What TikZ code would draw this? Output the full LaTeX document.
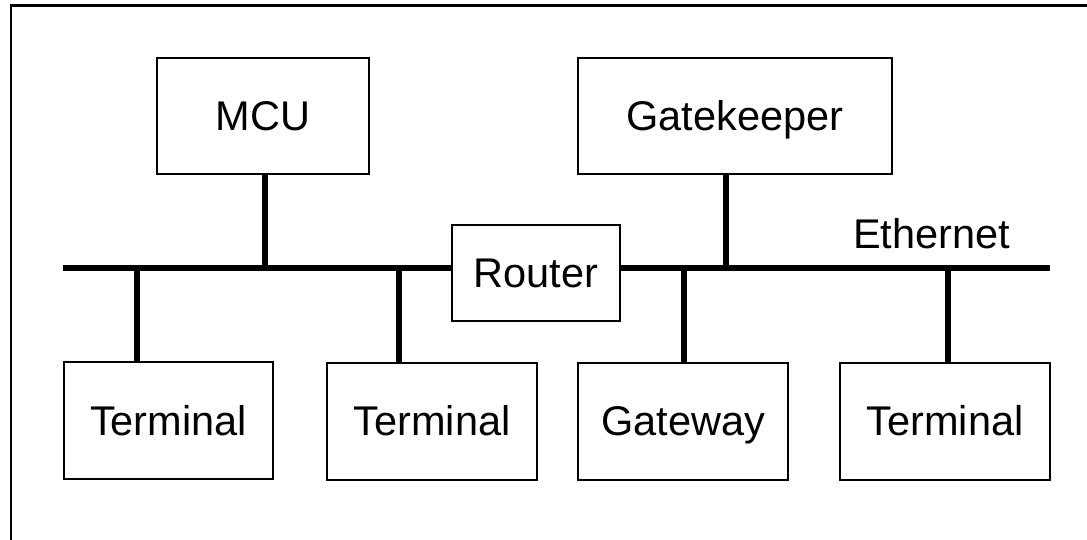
\documentclass[tikz,border=0pt]{standalone}
\usepackage{fontspec}
\setmainfont{Liberation Sans}
\begin{document}
\begin{tikzpicture}[x=1pt,y=1pt]
		\tikzstyle{every node}+=[inner sep=0pt, font=\fontsize{41.5}{50}\selectfont]
		\tikzstyle{unit}=[draw, line width=2pt, minimum width=210pt, minimum height=117pt, text height=29.7pt, text depth=0pt]
		\tikzstyle{bus}=[line width=6.6pt]
		\useasboundingbox (0,0) rectangle (1087,-540);
		\draw [line width=2.5pt] (1087,-5.3) -- (11,-5.3) -- (11,-540);
		% boxes
		\node [unit, minimum width=212pt, minimum height=116pt] (mcu) at (263,-116) {MCU};
		\node [unit, minimum width=314pt, minimum height=116pt] (gk) at (735,-116) {Gatekeeper};
		\node [unit, minimum width=168pt, minimum height=96pt] (router) at (536,-273) {Router};
		\node [unit, minimum width=209pt] (term1) at (168.5,-420.5) {Terminal};
		\node [unit] (term2) at (432,-421) {Terminal};
		\node [unit] (gw) at (683,-421) {Gateway};
		\node [unit] (term3) at (945,-421) {Terminal};
		\node [anchor=base west] (eth) at (853,-248) {Ethernet};
		% ethernet and taps
		\coordinate (busL) at (63,-268);
		\coordinate (busR) at (1050,-268);
		\coordinate (tapM) at (265,-268);
		\coordinate (tapG) at (726,-268);
		\coordinate (tapA) at (137,-268);
		\coordinate (tapB) at (399,-268);
		\coordinate (tapC) at (684,-268);
		\coordinate (tapD) at (948,-268);
		\draw [bus] (busL) -- (router.west |- busL);
		\draw [bus] (router.east |- busR) -- (busR);
		\draw [bus] (mcu.south -| tapM) -- (tapM);
		\draw [bus] (gk.south -| tapG) -- (tapG);
		\draw [bus] (tapA) -- (tapA |- term1.north);
		\draw [bus] (tapB) -- (tapB |- term2.north);
		\draw [bus] (tapC) -- (tapC |- gw.north);
		\draw [bus] (tapD) -- (tapD |- term3.north);
	\end{tikzpicture}
\end{document}
